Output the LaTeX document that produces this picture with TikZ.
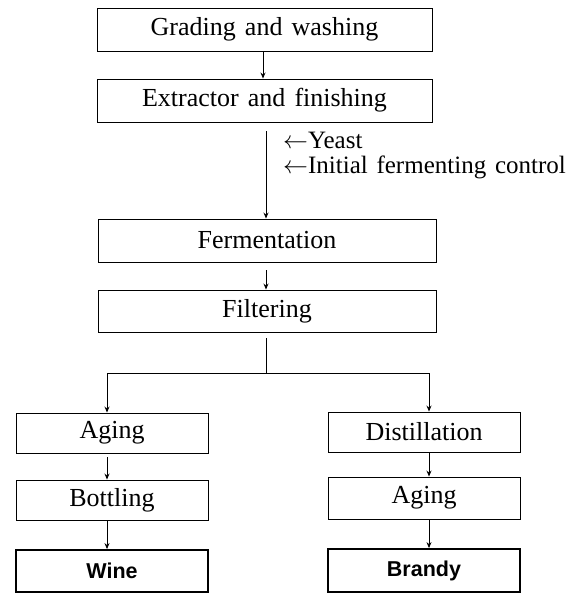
\documentclass[tikz,border=0pt]{standalone}
\usepackage{fontspec}
\setmainfont{Liberation Serif}[WordSpace=1.4]
\newfontfamily\labelsans{Liberation Sans}
\usetikzlibrary{arrows.meta}
\begin{document}
\begin{tikzpicture}[x=1pt,y=1pt,
  box/.style={draw,line width=0.9pt,minimum width=335pt,minimum height=43pt,inner sep=0pt,font=\fontsize{26}{30}\selectfont},
  sbox/.style={draw,line width=0.9pt,minimum width=192pt,minimum height=40pt,inner sep=0pt,font=\fontsize{26}{30}\selectfont},
  endbox/.style={draw,line width=1.8pt,minimum width=192pt,minimum height=42pt,inner sep=0pt,font=\labelsans\bfseries\fontsize{21.5}{25}\selectfont},
  lbl/.style={anchor=base west,inner sep=0pt,font=\fontsize{25}{28}\selectfont},
  conn/.style={line width=0.9pt},
  arr/.style={conn,-{Stealth[length=6pt,width=5pt]}}]
\useasboundingbox (0,0) rectangle (574,-596);
\node[box] (g1) at (264.5,-29.5) {Grading and washing};
\node[box] (g2) at (264.5,-100.5) {Extractor and finishing};
\node[box,minimum width=338pt] (ferm) at (267,-240.5) {Fermentation};
\node[box,minimum width=338pt,minimum height=42pt] (filt) at (267,-311) {Filtering};
\node[lbl] (yeast) at (283,-149) {$\leftarrow$Yeast};
\node[lbl] (init) at (283,-173) {$\leftarrow$Initial fermenting control};
\node[sbox] (agingL) at (112,-433) {Aging};
\node[sbox] (bottling) at (112,-500) {Bottling};
\node[endbox] (wine) at (112,-571) {Wine};
\node[sbox] (distill) at (424,-432) {Distillation};
\node[sbox,minimum height=42pt] (agingR) at (424,-498) {Aging};
\node[endbox,minimum height=43pt] (brandy) at (424,-570.5) {Brandy};
\coordinate (splitM) at (266,-373);
\coordinate (splitL) at (107,-373);
\coordinate (splitR) at (429,-373);
\draw[arr] ([xshift=-1.5pt]g1.south) -- ([xshift=-1.5pt]g2.north);
\draw[arr] ([yshift=-9pt]g2.south -| splitM) -- (ferm.north -| splitM);
\draw[arr] ([yshift=-8pt]ferm.south -| splitM) -- (filt.north -| splitM);
\draw[conn] ([yshift=-6pt]filt.south -| splitM) -- (splitM);
\draw[arr] (splitM) -- (splitL) -- (agingL.north -| splitL);
\draw[arr] (splitM) -- (splitR) -- (distill.north -| splitR);
\draw[arr] ([yshift=-4pt]agingL.south -| splitL) -- (bottling.north -| splitL);
\draw[arr] (bottling.south -| splitL) -- (wine.north -| splitL);
\draw[arr] (distill.south -| splitR) -- (agingR.north -| splitR);
\draw[arr] (agingR.south -| splitR) -- (brandy.north -| splitR);
\end{tikzpicture}
\end{document}
